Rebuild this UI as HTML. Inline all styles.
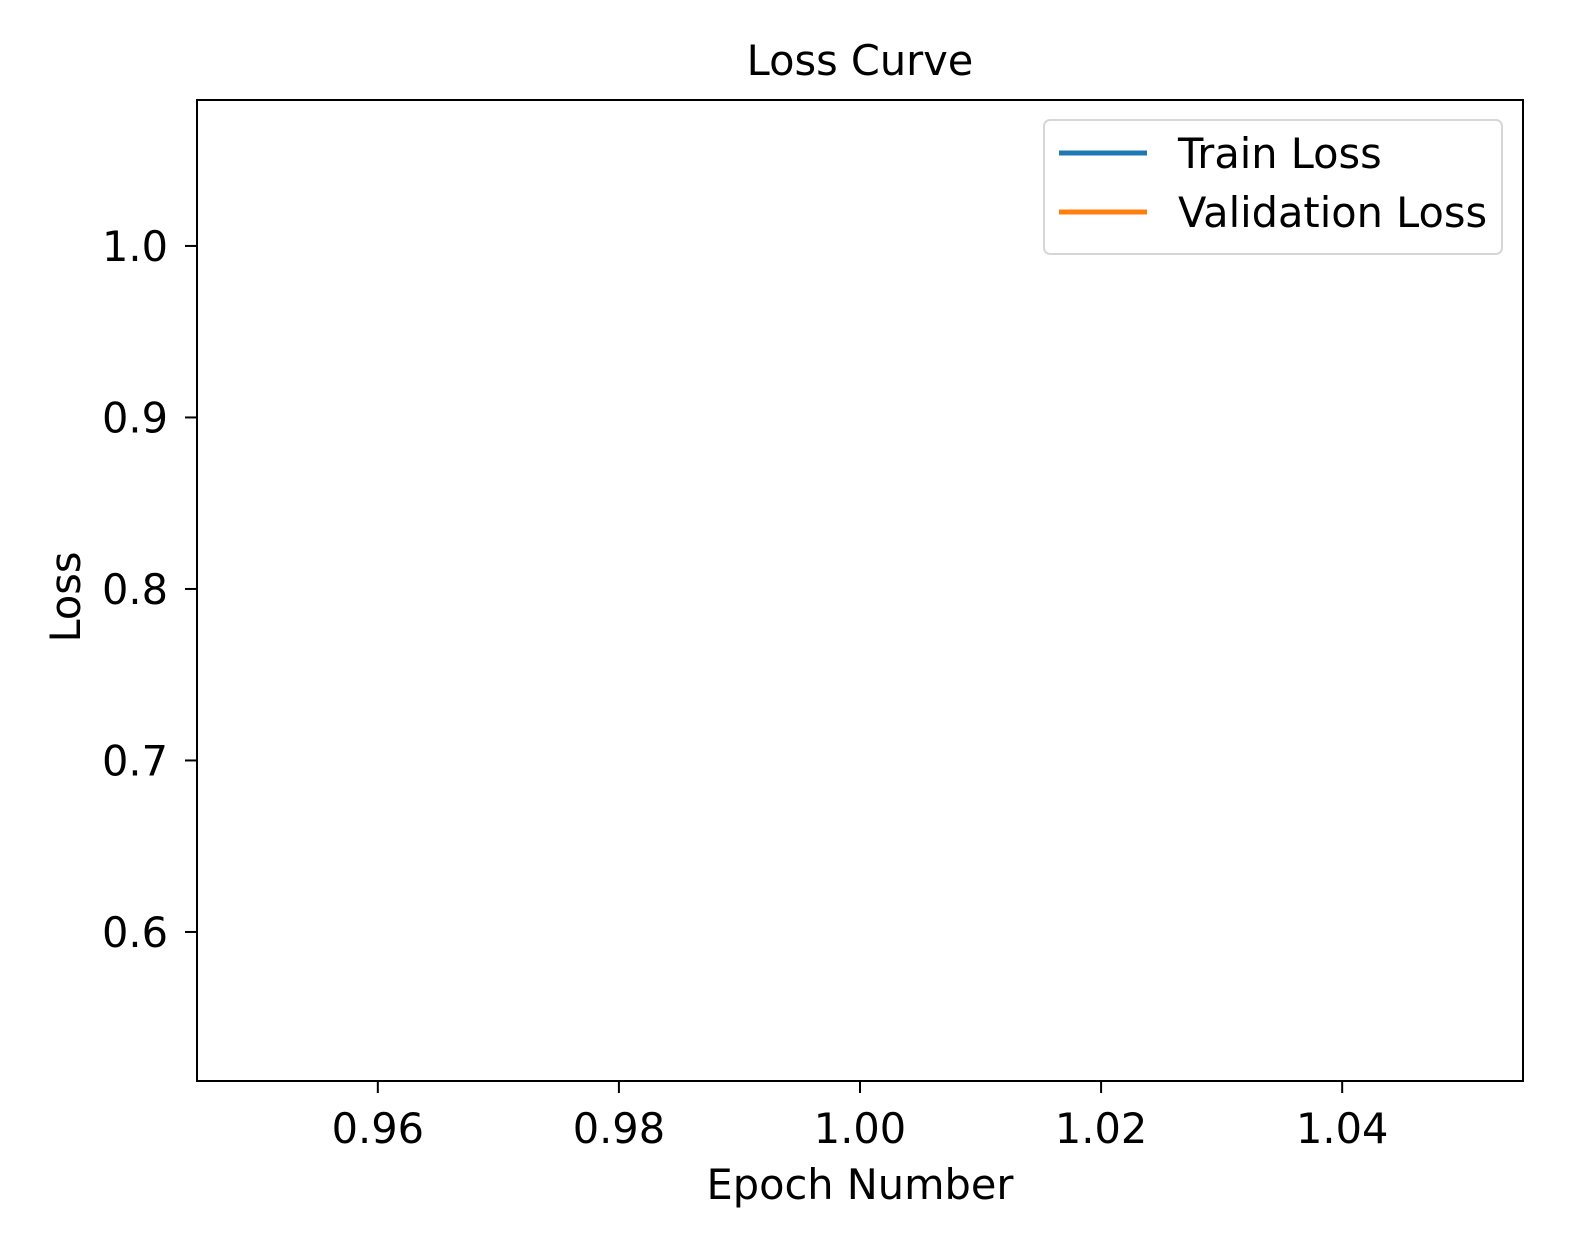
<!DOCTYPE html>
<html><head><meta charset="utf-8"><style>
html,body{margin:0;padding:0;background:#fff;}
svg{display:block;font-family:"DejaVu Sans","Liberation Sans",sans-serif;}
</style></head><body>
<svg id="chart" width="1575" height="1259" viewBox="0 0 1575 1259"></svg>
<script>
const epochs = [1];
const trainLoss = [0.54];
const valLoss = [1.06];
const xTicks = [0.96, 0.98, 1.00, 1.02, 1.04];
const xTickLabels = ["0.96", "0.98", "1.00", "1.02", "1.04"];
const yTicks = [0.6, 0.7, 0.8, 0.9, 1.0];
const yTickLabels = ["0.6", "0.7", "0.8", "0.9", "1.0"];

const L = 197, R = 1523, T = 100, B = 1081;
const FS = 41.5;
const xMin = 0.945, xMax = 1.055;
const yLo = 0.5131, yHi = 1.0851;
const sx = v => L + (v - xMin) / (xMax - xMin) * (R - L);
const sy = v => B - (v - yLo) / (yHi - yLo) * (B - T);
const svg = document.getElementById('chart');
const NS = 'http://www.w3.org/2000/svg';
function mk(tag, attrs, parent) {
  const e = document.createElementNS(NS, tag);
  for (const k in attrs) e.setAttribute(k, attrs[k]);
  (parent || svg).appendChild(e);
  return e;
}

const title = mk('text', {x: 860, y: 75, 'text-anchor': 'middle', 'font-size': FS, fill: '#000'});
title.textContent = 'Loss Curve';



function series(xs, ys, color, name) {
  if (xs.length < 2) return;
  const d = xs.map((x, i) => (i ? 'L' : 'M') + sx(x) + ',' + sy(ys[i])).join(' ');
  const p = mk('path', {d: d, fill: 'none', stroke: color, 'stroke-width': 5});
  
  
}
series(epochs, trainLoss, '#1f77b4', 'train-loss-line');
series(epochs, valLoss, '#ff7f0e', 'validation-loss-line');

xTicks.forEach((v, i) => {
  const x = sx(v);
  mk('line', {x1: x, x2: x, y1: B, y2: B + 12, stroke: '#000', 'stroke-width': 2});
  const t = mk('text', {x: x, y: B + 62, 'text-anchor': 'middle', 'font-size': FS, fill: '#000'});
  t.textContent = xTickLabels[i];
  
  
});
yTicks.forEach((v, i) => {
  const y = sy(v);
  mk('line', {x1: L - 12, x2: L, y1: y, y2: y, stroke: '#000', 'stroke-width': 2});
  const t = mk('text', {x: L - 29, y: y + 15, 'text-anchor': 'end', 'font-size': FS, fill: '#000'});
  t.textContent = yTickLabels[i];
  
  
});

const frame = mk('rect', {x: L, y: T, width: R - L, height: B - T, fill: 'none', stroke: '#000', 'stroke-width': 2});



const xl = mk('text', {x: 860, y: 1199, 'text-anchor': 'middle', 'font-size': FS, fill: '#000'});
xl.textContent = 'Epoch Number';


const yl = mk('text', {x: 0, y: 0, 'text-anchor': 'middle', 'font-size': FS, fill: '#000', transform: 'translate(80,597) rotate(-90)'});
yl.textContent = 'Loss';



const lg = mk('g', {});


mk('rect', {x: 1044, y: 120, width: 458, height: 134, rx: 6, fill: '#fff', 'fill-opacity': 0.8, stroke: '#d6d6d6', 'stroke-width': 2}, lg);
[['Train Loss', '#1f77b4', 153], ['Validation Loss', '#ff7f0e', 212]].forEach(([label, c, y]) => {
  const g = mk('g', {}, lg);
  
  
  mk('line', {x1: 1059, x2: 1147, y1: y, y2: y, stroke: c, 'stroke-width': 5}, g);
  const t = mk('text', {x: 1178, y: y + 15, 'font-size': FS, fill: '#000'}, g);
  t.textContent = label;
});
</script>
</body></html>
